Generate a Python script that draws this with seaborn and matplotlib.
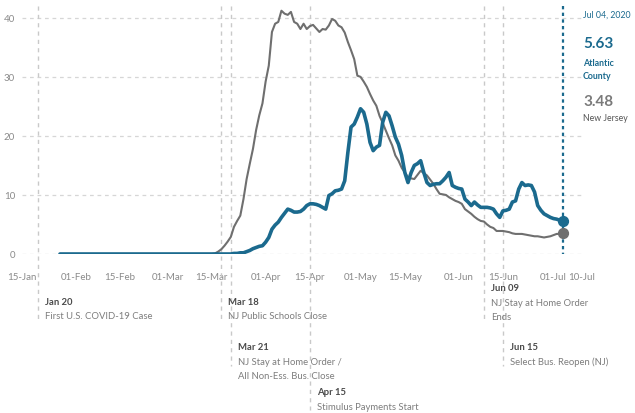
import pandas as pd
import numpy as np
import seaborn as sns
import matplotlib.pyplot as plt
import matplotlib.dates as mdates

# 7-day average of new cases per 100k (Mar 15 .. Jul 4, plus a start point)
nj_mar = [0, 0.1, 0.4, 0.8, 1.4, 2.1, 2.9, 4.6, 5.6, 6.5, 9.3, 12.7, 15.3, 17.8, 21.0, 23.5, 25.5]
nj_apr = [29.2, 31.9, 37.6, 39.0, 39.3, 41.2, 40.7, 40.5, 41.0, 39.3,
          39.0, 38.1, 39.0, 38.1, 38.6, 38.8, 38.2, 37.6, 38.1, 38.0,
          38.7, 39.8, 39.5, 38.7, 38.4, 37.5, 35.9, 34.5, 33.0, 30.2]
nj_may = [30.0, 29.2, 28.3, 27.1, 26.0, 25.1, 23.4, 22.2, 20.9, 19.6,
          18.4, 16.7, 15.8, 14.6, 13.8, 13.0, 12.8, 12.7, 13.4, 14.1,
          13.7, 13.3, 12.6, 11.9, 11.0, 10.2, 10.1, 10.0, 9.6, 9.3, 9.0]
nj_jun = [8.8, 8.5, 7.6, 7.2, 6.8, 6.3, 5.9, 5.6, 5.5, 5.0,
          4.6, 4.4, 3.9, 3.9, 3.9, 3.8, 3.7, 3.5, 3.4, 3.4,
          3.4, 3.3, 3.2, 3.1, 3.0, 3.0, 2.9, 2.8, 2.9, 3.0]
nj_jul = [3.2, 3.4, 3.4, 3.48]

ac_mar = [0, 0, 0, 0, 0, 0, 0, 0.1, 0.1, 0.2, 0.2, 0.4, 0.6, 0.9, 1.1, 1.3, 1.4]
ac_apr = [2.0, 2.8, 4.2, 4.9, 5.4, 6.2, 6.9, 7.6, 7.4, 7.1,
          7.1, 7.2, 7.6, 8.2, 8.5, 8.5, 8.4, 8.2, 7.9, 7.6,
          9.9, 10.2, 10.7, 10.8, 11.0, 12.4, 17.2, 21.5, 22.0, 23.2]
ac_may = [24.6, 24.0, 22.0, 18.9, 17.5, 18.1, 18.4, 22.3, 24.0, 23.4,
          21.7, 19.8, 18.6, 16.7, 13.8, 12.1, 13.8, 15.0, 15.3, 15.8,
          13.8, 12.1, 11.6, 11.8, 11.9, 11.9, 12.4, 13.0, 13.8, 11.6, 11.3]
ac_jun = [11.1, 11.0, 9.3, 8.8, 8.2, 8.8, 8.3, 7.9, 7.9, 7.9,
          7.8, 7.6, 6.8, 6.2, 7.3, 7.4, 7.6, 8.8, 9.0, 11.0,
          12.1, 11.6, 11.7, 11.6, 10.5, 8.2, 7.4, 6.8, 6.5, 6.2]
ac_jul = [6.0, 5.9, 5.7, 5.63]

start_date = "2020-01-27"
start_value = 0
daily_from, daily_to = "2020-03-15", "2020-07-04"

# events shown under the chart
ev_dates = ["2020-01-20", "2020-03-18", "2020-03-21", "2020-04-15", "2020-06-09", "2020-06-15"]
ev_titles = ["Jan 20", "Mar 18", "Mar 21", "Apr 15", "Jun 09", "Jun 15"]
ev_texts = [["First U.S. COVID-19 Case"], ["NJ Public Schools Close"],
            ["NJ Stay at Home Order /", "All Non-Ess. Bus. Close"], ["Stimulus Payments Start"],
            ["NJ Stay at Home Order", "Ends"], ["Select Bus. Reopen (NJ)"]]
ev_rows = [0, 0, 1, 2, -1, 1]   # vertical slot of each label

xtick_dates = ["2020-01-15", "2020-02-01", "2020-02-15", "2020-03-01", "2020-03-15", "2020-04-01",
               "2020-04-15", "2020-05-01", "2020-05-15", "2020-06-01", "2020-06-15", "2020-07-01",
               "2020-07-10"]

BLUE = "#1b6a8e"
GRAY = "#6f6f6f"

dates = [pd.Timestamp(start_date)] + list(pd.date_range(daily_from, daily_to))
df = pd.DataFrame({
    "date": dates,
    "nj": [start_value] + nj_mar + nj_apr + nj_may + nj_jun + nj_jul,
    "ac": [start_value] + ac_mar + ac_apr + ac_may + ac_jun + ac_jul,
})

sns.set_style("white")
plt.rcParams['font.family'] = ['Lato', 'DejaVu Sans']

fig = plt.figure(figsize=(6.35, 4.14), dpi=100)
ax = fig.add_axes([22 / 635, 159 / 414, 560 / 635, 248 / 414])

sns.lineplot(data=df, x="date", y="nj", color=GRAY, linewidth=1.5, ax=ax, zorder=3)
sns.lineplot(data=df, x="date", y="ac", color=BLUE, linewidth=2.6, ax=ax, zorder=4)

last = df.iloc[-1]
ax.scatter([last["date"]], [last["ac"]], s=50, color=BLUE, zorder=5)
ax.scatter([last["date"]], [last["nj"]], s=50, color=GRAY, zorder=5)

ax.set_xlim(pd.Timestamp("2020-01-15"), pd.Timestamp("2020-07-10"))
ax.set_ylim(0, 42)
ax.set_yticks([0, 10, 20, 30, 40])
ax.set_xticks([pd.Timestamp(d) for d in xtick_dates])
ax.xaxis.set_major_formatter(mdates.DateFormatter("%d-%b"))
ax.tick_params(axis="x", length=0, pad=13, labelsize=7, labelcolor="#8a8a8a")
ax.tick_params(axis="y", length=0, pad=5, labelsize=7, labelcolor="#8a8a8a")
ax.set_xlabel("")
ax.set_ylabel("")
for s in ax.spines.values():
    s.set_visible(False)
ax.grid(axis="y", color="#d6d6d6", linestyle=(0, (3, 3)), linewidth=0.9)

# event lines + labels below the axis
bottoms = {-1: -0.27, 0: -0.27, 1: -0.45, 2: -0.63}
title_y = {-1: -0.137, 0: -0.19, 1: -0.375, 2: -0.556}
trans = ax.get_xaxis_transform()
for d, t, lines, r in zip(ev_dates, ev_titles, ev_texts, ev_rows):
    x = mdates.date2num(pd.Timestamp(d))
    ax.plot([x, x], [1.0, bottoms[r]], transform=trans, clip_on=False,
            color="#c9c9c9", linestyle=(0, (3, 3)), linewidth=1, zorder=1)
    ax.annotate(t, xy=(x, title_y[r]), xycoords=trans, xytext=(5, 0), textcoords="offset points",
                fontsize=6.8, fontweight="bold", color="#4a4a4a", va="center", annotation_clip=False)
    for i, line in enumerate(lines):
        ax.annotate(line, xy=(x, title_y[r] - 0.057 * (i + 1)), xycoords=trans, xytext=(5, 0),
                    textcoords="offset points", fontsize=6.8, color="#7d7d7d", va="center",
                    annotation_clip=False)

# highlight line for the latest day
xl = mdates.date2num(last["date"])
ax.plot([xl, xl], [1.0, 0], transform=trans, color=BLUE,
        linestyle=(0, (1.5, 1.5)), linewidth=1.6, zorder=2, clip_on=False)

# right-hand readout
fig.text(583 / 635, 1 - 15 / 414, "Jul 04, 2020", color=BLUE, fontsize=6.3, va="center")
fig.text(583 / 635, 1 - 44 / 414, f"{last['ac']:.2f}", color=BLUE, fontsize=11,
         fontweight="bold", va="center")
fig.text(583 / 635, 1 - 63 / 414, "Atlantic", color=BLUE, fontsize=6.3, fontweight="bold", va="center")
fig.text(583 / 635, 1 - 77 / 414, "County", color=BLUE, fontsize=6.3, fontweight="bold", va="center")
fig.text(583 / 635, 1 - 102 / 414, f"{last['nj']:.2f}", color="#7a7a7a", fontsize=11,
         fontweight="bold", va="center")
fig.text(583 / 635, 1 - 119 / 414, "New Jersey", color="#555555", fontsize=6.3, va="center")

fig.savefig("out.png", dpi=100)
